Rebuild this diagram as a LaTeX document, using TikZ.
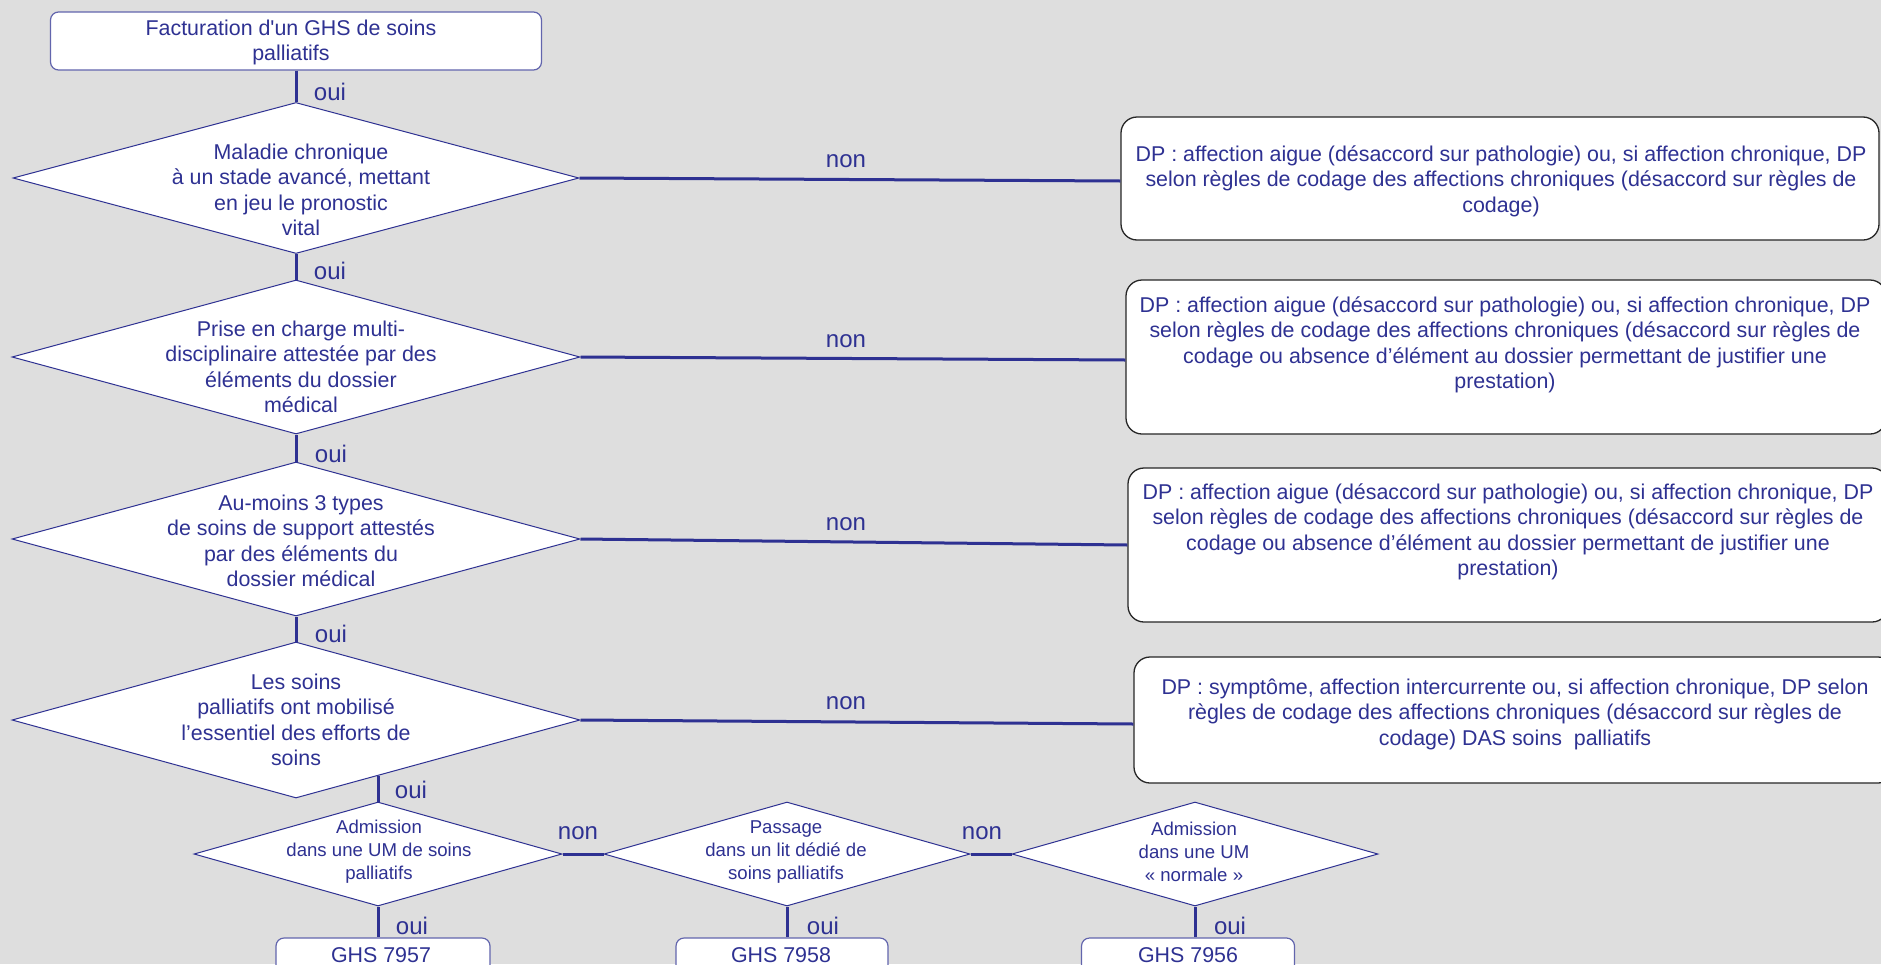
\documentclass[tikz,border=0pt]{standalone}
\usepackage{fontspec}
\newfontfamily\lsans{Liberation Sans}
\usetikzlibrary{shapes.geometric,calc}
\definecolor{nvy}{RGB}{46,49,146}
\definecolor{bgc}{RGB}{222,222,222}
\begin{document}
\begin{tikzpicture}[x=1pt,y=-1pt,
  dia/.style={shape=diamond, draw=nvy, line width=1pt, fill=white, inner sep=0pt},
  rbox/.style={rectangle, rounded corners=16pt, draw=black!85, line width=1.3pt, fill=white, inner sep=0pt},
  tbox/.style={rectangle, rounded corners=8pt, draw=nvy!75, line width=1.2pt, fill=white, inner sep=0pt},
  conn/.style={draw=nvy, line width=3pt},
  lbl/.style={text=nvy, font=\lsans\fontsize{24}{28}\selectfont, inner sep=0pt},
  txt/.style={text=nvy, align=center, font=\lsans\fontsize{21.4}{25.5}\selectfont, inner sep=0pt},
  stxt/.style={text=nvy, align=center, font=\lsans\fontsize{18.6}{23}\selectfont, inner sep=0pt}]
\fill[bgc] (0,0) rectangle (1881,964);
\useasboundingbox (0,0) rectangle (1881,964);

% top box
\node[tbox, minimum width=491pt, minimum height=58pt] (top) at (296,41) {};
\node[txt] (topt) at (291,42.5) {Facturation d'un GHS de soins\\palliatifs};

% diamonds
\node[dia, minimum width=566pt, minimum height=151pt] (d1) at (296,178) {};
\node[txt] (d1t) at (301,190) {Maladie chronique\\à un stade avancé, mettant\\en jeu le pronostic\\vital};
\node[dia, minimum width=568pt, minimum height=154pt] (d2) at (296,357) {};
\node[txt] (d2t) at (301,367) {Prise en charge multi-\\disciplinaire attestée par des\\éléments du dossier\\médical};
\node[dia, minimum width=568pt, minimum height=154pt] (d3) at (296,539) {};
\node[txt] (d3t) at (301,541) {Au-moins 3 types\\de soins de support attestés\\par des éléments du\\dossier médical};
\node[dia, minimum width=568pt, minimum height=156pt] (d4) at (296,720) {};
\node[txt] (d4t) at (296,720) {Les soins\\palliatifs ont mobilisé\\l’essentiel des efforts de\\soins};
\node[dia, minimum width=368pt, minimum height=104pt] (d5) at (378,854) {};
\node[stxt] (d5t) at (379,852) {Admission\\dans une UM de soins\\palliatifs};
\node[dia, minimum width=366pt, minimum height=104pt] (d6) at (787,854) {};
\node[stxt] (d6t) at (786,852) {Passage\\dans un lit dédié de\\soins palliatifs};
\node[dia, minimum width=366pt, minimum height=104pt] (d7) at (1195,854) {};
\node[stxt] (d7t) at (1194,852) {Admission\\dans une UM\\« normale »};

% right boxes
\node[rbox, minimum width=758pt, minimum height=123pt] (b1) at (1500,178.5) {};
\node[txt] (b1t) at (1501,181) {DP : affection aigue (désaccord sur pathologie) ou, si affection chronique, DP\\selon règles de codage des affections chroniques (désaccord sur règles de\\codage)};
\node[rbox, minimum width=760pt, minimum height=154pt] (b2) at (1506,357) {};
\node[txt] (b2t) at (1505,345) {DP : affection aigue (désaccord sur pathologie) ou, si affection chronique, DP\\selon règles de codage des affections chroniques (désaccord sur règles de\\codage ou absence d’élément au dossier permettant de justifier une\\prestation)};
\node[rbox, minimum width=760pt, minimum height=154pt] (b3) at (1508,545) {};
\node[txt] (b3t) at (1508,532) {DP : affection aigue (désaccord sur pathologie) ou, si affection chronique, DP\\selon règles de codage des affections chroniques (désaccord sur règles de\\codage ou absence d’élément au dossier permettant de justifier une\\prestation)};
\node[rbox, minimum width=760pt, minimum height=126pt] (b4) at (1514,720) {};
\node[txt] (b4t) at (1515,714) {DP : symptôme, affection intercurrente ou, si affection chronique, DP selon\\règles de codage des affections chroniques (désaccord sur règles de\\codage) DAS soins\ \ palliatifs};

% GHS boxes
\node[tbox, minimum width=214pt, minimum height=46pt] (g1) at (383,961) {};
\node[txt] (g1t) at (381,955) {GHS 7957};
\node[tbox, minimum width=212pt, minimum height=46pt] (g2) at (782,961) {};
\node[txt] (g2t) at (781,955) {GHS 7958};
\node[tbox, minimum width=213pt, minimum height=46pt] (g3) at (1188,961) {};
\node[txt] (g3t) at (1188,955) {GHS 7956};

% connectors
\draw[conn] (top.south) -- (d1.north);
\draw[conn] (d1.south) -- (d2.north);
\draw[conn] (d2.south) -- (d3.north);
\draw[conn] (d3.south) -- (d4.north);
\coordinate (j4) at ($(d4.south)!0.292!(d4.east)$);
\draw[conn] (d5.north) -- (d5.north |- j4);
\draw[conn] (d1.east) -- ([yshift=-2.5pt]b1.west);
\draw[conn] (d2.east) -- ([yshift=-3pt]b2.west);
\draw[conn] (d3.east) -- (b3.west);
\draw[conn] (d4.east) -- ([yshift=-4pt]b4.west);
\draw[conn] (d5.east) -- (d6.west);
\draw[conn] (d6.east) -- (d7.west);
\draw[conn] (d5.south) -- (d5.south |- g1.north);
\draw[conn] (d6.south) -- (d6.south |- g2.north);
\draw[conn] (d7.south) -- (d7.south |- g3.north);

% labels
\node[lbl] (o1) at (330,91.5) {oui};
\node[lbl] (o2) at (330,270.5) {oui};
\node[lbl] (o3) at (331,453.5) {oui};
\node[lbl] (o4) at (331,633.5) {oui};
\node[lbl] (o5) at (411,789.5) {oui};
\node[lbl] (o6) at (412,926) {oui};
\node[lbl] (o7) at (823,926) {oui};
\node[lbl] (o8) at (1230,926) {oui};
\node[lbl] (n1) at (846,161.5) {non};
\node[lbl] (n2) at (846,341.5) {non};
\node[lbl] (n3) at (846,524.5) {non};
\node[lbl] (n4) at (846,703.5) {non};
\node[lbl] (n5) at (578,833.5) {non};
\node[lbl] (n6) at (982,833.5) {non};
\end{tikzpicture}
\end{document}
